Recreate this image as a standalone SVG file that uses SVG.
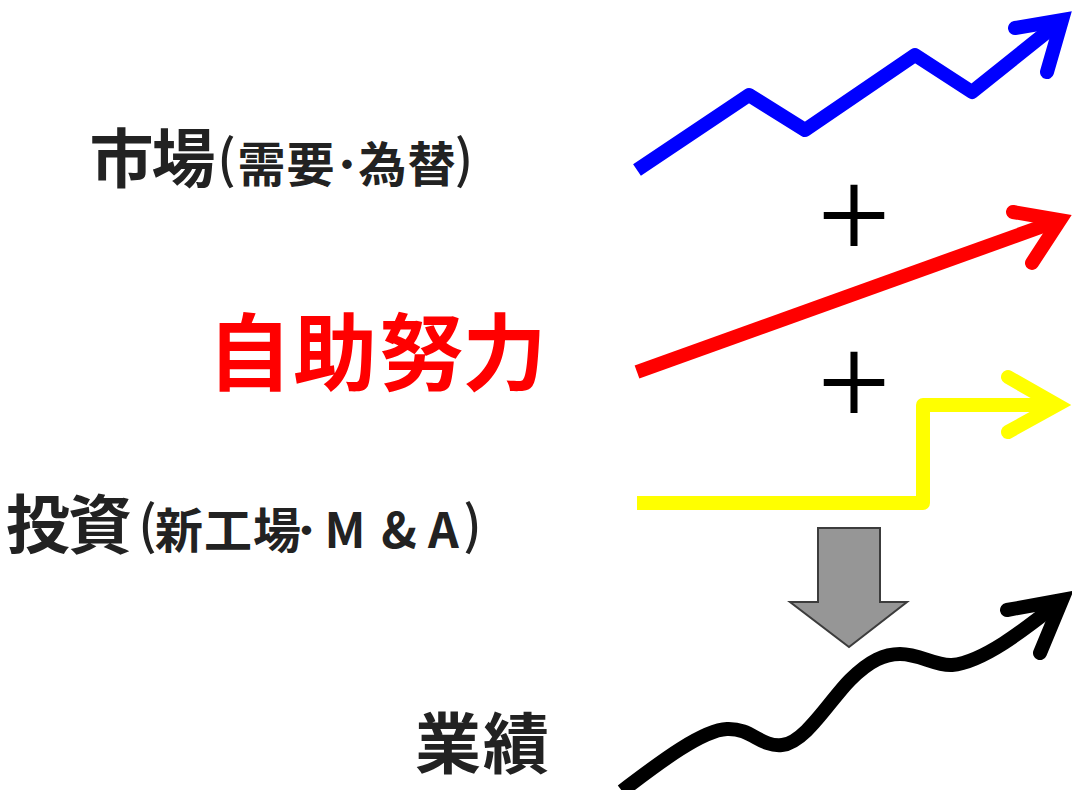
<svg xmlns="http://www.w3.org/2000/svg" width="1072" height="790" viewBox="0 0 1072 790">
<style>
.lbl{font-family:"Noto Sans CJK JP","Noto Sans CJK SC",sans-serif;font-weight:bold;fill:#222;text-anchor:middle}
.red{fill:#ff0000}
.par{font-size:52px;font-weight:500}
.plus{font-family:"Noto Sans CJK JP",sans-serif;font-weight:500;fill:#000;text-anchor:middle;font-size:84px}
.ln{fill:none;stroke-width:14;stroke-linejoin:round;stroke-linecap:butt}
.hd{fill:none;stroke-width:14;stroke-linejoin:miter;stroke-linecap:round;stroke-miterlimit:6}
</style>
<rect width="1072" height="790" fill="#fff"/>
<g id="label-market"><text class="lbl" y="182"><tspan font-size="64" x="121.5 183.5">市場</tspan><tspan class="par" y="178" x="226.5">(</tspan><tspan font-size="48" y="182" x="261.5 310.5 347 382.5 431.5">需要･為替</tspan><tspan class="par" y="178" x="464">)</tspan></text></g>
<g id="label-self"><text class="lbl red" y="384" font-size="84" x="249.5 335 421.5 504.5">自助努力</text></g>
<g id="label-invest"><text class="lbl" y="548"><tspan font-size="64" x="38 100">投資</tspan><tspan class="par" y="544" x="147.5">(</tspan><tspan font-size="48" y="548" x="179 228 277 306.5 345 399 443.5">新工場･M&amp;A</tspan><tspan class="par" y="544" x="472.5">)</tspan></text></g>
<g id="label-result"><text class="lbl" y="768" font-size="66" x="448 516">業績</text></g>
<g id="plus1"><text class="plus" x="854" y="247">＋</text></g>
<g id="plus2"><text class="plus" x="854" y="414">＋</text></g>
<g id="down-arrow"><polygon points="818,528 880,528 880,602 907,602 849,647 790,602 818,602" fill="#969696" stroke="#3c3c3c" stroke-width="2"/></g>
<g id="connectors">
<g stroke="#0000ff"><polyline class="ln" points="637,170 749,95 805,130 915,55 972,92 1062,20"/><polyline class="hd" points="1015,28 1062,20 1047,72"/></g>
<g stroke="#ff0000"><polyline class="ln" points="637,372 1060,220"/><polyline class="hd" points="1013,212 1060,220 1032,263"/></g>
<g stroke="#ffff00"><polyline class="ln" points="637,503 923,503 923,405 1055,405" stroke-linejoin="miter"/><polyline class="hd" points="1008,377 1057,405 1008,432"/></g>
<g stroke="#000"><path class="ln" d="M622,791 C650,770 700,730 727,729 C752,728 760,747 782,745 C805,743 830,700 850,680 C870,660 885,654 900,654 C920,654 935,666 952,665 C985,662 1030,625 1062,600"/><polyline class="hd" points="1007,610 1062,600 1040,653"/></g>
</g>
</svg>
